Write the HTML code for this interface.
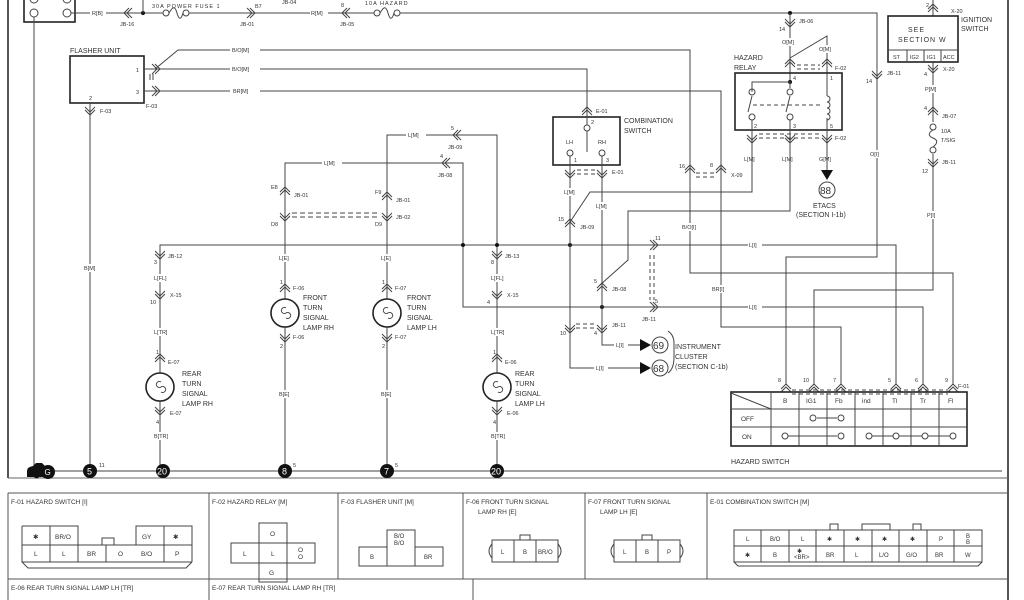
<!DOCTYPE html>
<html><head><meta charset="utf-8"><style>
html,body{margin:0;padding:0;background:#fff}
svg{display:block}
text{font-family:"Liberation Sans",sans-serif;fill:#333}
.s{font-size:5.5px}
.m{font-size:7px}
.w{stroke:#444;stroke-width:1;fill:none}
.b{stroke:#222;stroke-width:1.6;fill:none}
</style></head><body>
<svg width="1024" height="600" viewBox="0 0 1024 600" xmlns="http://www.w3.org/2000/svg">
<defs>
<g id="cd"><path d="M-5,-5 L0,0 L5,-5 M-5,-2 L0,3 L5,-2" stroke="#444" fill="none"/></g>
<g id="cu"><path d="M-5,5 L0,0 L5,5 M-5,2 L0,-3 L5,2" stroke="#444" fill="none"/></g>
<g id="cl"><path d="M5,-5 L0,0 L5,5 M8,-5 L3,0 L8,5" stroke="#444" fill="none"/></g>
<g id="cr"><path d="M-5,-5 L0,0 L-5,5 M-8,-5 L-3,0 L-8,5" stroke="#444" fill="none"/></g>
<g id="lamp"><circle r="14" stroke="#222" stroke-width="1.6" fill="#fff"/><path d="M1,-5 a3,3 0 1 0 0,5 a3,3 0 1 1 0,5" stroke="#444" fill="none"/></g>
</defs>
<!-- frame -->
<line x1="8" y1="0" x2="8" y2="478" stroke="#555" stroke-width="2"/>
<line x1="1008" y1="0" x2="1008" y2="600" stroke="#555" stroke-width="2"/>
<line x1="8" y1="478" x2="1008" y2="478" stroke="#666"/>

<!-- battery -->
<rect x="24" y="-2" width="51" height="24" class="b"/>
<circle cx="34" cy="13" r="4" class="w"/><circle cx="67" cy="13" r="4" class="w"/>
<path d="M30,-1 a4,4 0 0 0 8,0 M63,-1 a4,4 0 0 0 8,0" class="w"/>
<line x1="34" y1="17" x2="34" y2="471" class="w"/>
<!-- top wire -->
<path d="M71,13 H163 M189,13 H374 M400,13 H877 V257 H786 V385" class="w"/>
<circle cx="143" cy="13" r="2" fill="#111"/><line x1="143" y1="0" x2="143" y2="13" class="w"/>
<circle cx="166" cy="13" r="3" fill="#fff" class="w"/><circle cx="186" cy="13" r="3" fill="#fff" class="w"/>
<path d="M169,13 c4,-7 6,-7 8,0 c2,7 4,7 6,0" class="w"/>
<circle cx="377" cy="13" r="3" fill="#fff" class="w"/><circle cx="397" cy="13" r="3" fill="#fff" class="w"/>
<path d="M380,13 c4,-7 6,-7 8,0 c2,7 4,7 6,0" class="w"/>
<rect x="90" y="9" width="16" height="8" fill="#fff"/><text x="92" y="15" class="s">R[B]</text>
<use href="#cl" x="124" y="13"/><text x="120" y="26" class="s">JB-16</text>
<text x="152" y="8" class="s" letter-spacing="1">30A POWER FUSE 1</text>
<use href="#cr" x="255" y="13"/><text x="255" y="8" class="s">B7</text><text x="240" y="26" class="s">JB-01</text>
<text x="282" y="4" class="s">JB-04</text>
<rect x="310" y="9" width="18" height="8" fill="#fff"/><text x="311" y="15" class="s">R[M]</text>
<use href="#cl" x="342" y="13"/><text x="341" y="7" class="s">8</text><text x="340" y="26" class="s">JB-05</text>
<text x="365" y="5" class="s" letter-spacing="1">10A HAZARD</text>

<!-- flasher -->
<text x="70" y="53" class="m">FLASHER UNIT</text>
<rect x="70" y="56" width="74" height="47" class="b"/>
<text x="136" y="72" class="s">1</text><text x="136" y="94" class="s">3</text><text x="89" y="100" class="s">2</text>
<use href="#cr" x="160" y="69"/><use href="#cr" x="160" y="91"/>
<path d="M150,80 V74 M153,80 V74" class="w"/>
<path d="M155,69 L178,50 H690 V273 H953 V385" class="w"/>
<path d="M144,69 H587 V108" class="w"/>
<path d="M144,91 H721 V327 H841 V385" class="w"/>
<rect x="230" y="46" width="30" height="8" fill="#fff"/><text x="232" y="52" class="s">B/O[M]</text>
<rect x="230" y="65" width="30" height="8" fill="#fff"/><text x="232" y="71" class="s">B/O[M]</text>
<rect x="230" y="87" width="30" height="8" fill="#fff"/><text x="233" y="93" class="s">BR[M]</text>
<text x="146" y="108" class="s">F-03</text>
<use href="#cd" x="90" y="112"/><text x="100" y="113" class="s">F-03</text>
<line x1="90" y1="103" x2="90" y2="471" class="w"/>
<rect x="82" y="264" width="18" height="8" fill="#fff"/><text x="84" y="270" class="s">B[M]</text>

<!-- L[M] wires -->
<path d="M387,400 V135 H497 V471" class="w"/>
<path d="M285,471 V163 H463 V307 H923 V385" class="w"/>
<rect x="406" y="131" width="20" height="8" fill="#fff"/><text x="408" y="137" class="s">L[M]</text>
<rect x="322" y="159" width="20" height="8" fill="#fff"/><text x="324" y="165" class="s">L[M]</text>
<use href="#cl" x="453" y="135"/><text x="451" y="130" class="s">5</text><text x="448" y="149" class="s">JB-09</text>
<use href="#cl" x="442" y="163"/><text x="440" y="158" class="s">4</text><text x="438" y="177" class="s">JB-08</text>
<use href="#cu" x="285" y="190"/><text x="271" y="189" class="s">E8</text><text x="294" y="197" class="s">JB-01</text>
<use href="#cd" x="285" y="218"/><text x="271" y="226" class="s">D8</text>
<use href="#cu" x="387" y="195"/><text x="375" y="194" class="s">F9</text><text x="396" y="202" class="s">JB-01</text>
<use href="#cd" x="387" y="218"/><text x="375" y="226" class="s">D9</text><text x="396" y="219" class="s">JB-02</text>
<path d="M292,213 H380 M292,217 H380" stroke="#444" stroke-dasharray="5,3"/>

<!-- L[I] main -->
<path d="M160,471 V245 H896 V385" class="w"/>
<circle cx="463" cy="245" r="2" fill="#111"/><circle cx="497" cy="245" r="2" fill="#111"/>
<circle cx="570" cy="245" r="2" fill="#111"/><circle cx="602" cy="307" r="2" fill="#111"/>
<rect x="748" y="241" width="14" height="8" fill="#fff"/><text x="749" y="247" class="s">L[I]</text>
<rect x="748" y="303" width="14" height="8" fill="#fff"/><text x="749" y="309" class="s">L[I]</text>
<use href="#cr" x="658" y="245"/><text x="655" y="240" class="s">11</text>
<use href="#cr" x="658" y="307"/><text x="655" y="303" class="s">5</text><text x="642" y="321" class="s">JB-11</text>
<path d="M650,255 V300 M654,255 V300" stroke="#444" stroke-dasharray="4,3"/>

<!-- left lamp column -->
<g>
<use href="#cd" x="160" y="256"/><text x="154" y="264" class="s">3</text><text x="168" y="258" class="s">JB-12</text>
<rect x="152" y="274" width="18" height="8" fill="#fff"/><text x="154" y="280" class="s">L[FL]</text>
<use href="#cd" x="160" y="296"/><text x="150" y="304" class="s">10</text><text x="170" y="297" class="s">X-15</text>
<rect x="152" y="328" width="18" height="8" fill="#fff"/><text x="154" y="334" class="s">L[TR]</text>
<use href="#cu" x="160" y="357"/><text x="156" y="354" class="s">1</text><text x="168" y="364" class="s">E-07</text>
<use href="#lamp" x="160" y="387"/>
<text x="182" y="376" class="m">REAR</text><text x="182" y="386" class="m">TURN</text><text x="182" y="396" class="m">SIGNAL</text><text x="182" y="406" class="m">LAMP RH</text>
<use href="#cd" x="160" y="412"/><text x="156" y="424" class="s">4</text><text x="170" y="415" class="s">E-07</text>
<rect x="152" y="432" width="18" height="8" fill="#fff"/><text x="154" y="438" class="s">B[TR]</text>
</g>
<g>
<use href="#cd" x="497" y="256"/><text x="491" y="264" class="s">8</text><text x="505" y="258" class="s">JB-13</text>
<rect x="489" y="274" width="18" height="8" fill="#fff"/><text x="491" y="280" class="s">L[FL]</text>
<use href="#cd" x="497" y="296"/><text x="487" y="304" class="s">4</text><text x="507" y="297" class="s">X-15</text>
<rect x="489" y="328" width="18" height="8" fill="#fff"/><text x="491" y="334" class="s">L[TR]</text>
<use href="#cu" x="497" y="357"/><text x="493" y="354" class="s">1</text><text x="505" y="364" class="s">E-06</text>
<use href="#lamp" x="497" y="387"/>
<text x="515" y="376" class="m">REAR</text><text x="515" y="386" class="m">TURN</text><text x="515" y="396" class="m">SIGNAL</text><text x="515" y="406" class="m">LAMP LH</text>
<use href="#cd" x="497" y="412"/><text x="493" y="424" class="s">4</text><text x="507" y="415" class="s">E-06</text>
<rect x="489" y="432" width="18" height="8" fill="#fff"/><text x="491" y="438" class="s">B[TR]</text>
</g>
<g>
<rect x="278" y="254" width="14" height="8" fill="#fff"/><text x="279" y="260" class="s">L[E]</text>
<use href="#cu" x="285" y="287"/><text x="280" y="284" class="s">1</text><text x="293" y="290" class="s">F-06</text>
<use href="#lamp" x="285" y="313"/>
<text x="303" y="300" class="m">FRONT</text><text x="303" y="310" class="m">TURN</text><text x="303" y="320" class="m">SIGNAL</text><text x="303" y="330" class="m">LAMP RH</text>
<use href="#cd" x="285" y="339"/><text x="280" y="348" class="s">2</text><text x="293" y="339" class="s">F-06</text>
<rect x="278" y="390" width="14" height="8" fill="#fff"/><text x="279" y="396" class="s">B[E]</text>
</g>
<g>
<rect x="380" y="254" width="14" height="8" fill="#fff"/><text x="381" y="260" class="s">L[E]</text>
<use href="#cu" x="387" y="287"/><text x="382" y="284" class="s">1</text><text x="395" y="290" class="s">F-07</text>
<use href="#lamp" x="387" y="313"/>
<text x="407" y="300" class="m">FRONT</text><text x="407" y="310" class="m">TURN</text><text x="407" y="320" class="m">SIGNAL</text><text x="407" y="330" class="m">LAMP LH</text>
<use href="#cd" x="387" y="339"/><text x="382" y="348" class="s">2</text><text x="395" y="339" class="s">F-07</text>
<rect x="380" y="390" width="14" height="8" fill="#fff"/><text x="381" y="396" class="s">B[E]</text>
</g>
<line x1="387" y1="400" x2="387" y2="471" class="w"/>

<!-- ground bus -->
<line x1="30" y1="471" x2="1002" y2="471" class="w"/>
<path d="M27,471 q0,-4 6,-5 l3,-3 h6 l3,3 v11 h-6 q-2,3 -5,0 h-7 z" fill="#111"/>
<circle cx="48" cy="472" r="7" fill="#111"/><text x="44.5" y="475" style="font-size:8px;fill:#fff">G</text>
<g style="font-size:9px">
<circle cx="90" cy="471" r="7" fill="#111"/><text x="87" y="474.5" style="fill:#fff">5</text><text x="99" y="467" class="s">11</text>
<circle cx="163" cy="471" r="7" fill="#111"/><text x="157" y="474.5" style="fill:#fff">20</text>
<circle cx="285" cy="471" r="7" fill="#111"/><text x="282" y="474.5" style="fill:#fff">8</text><text x="293" y="467" class="s">5</text>
<circle cx="387" cy="471" r="7" fill="#111"/><text x="384" y="474.5" style="fill:#fff">7</text><text x="395" y="467" class="s">5</text>
<circle cx="497" cy="471" r="7" fill="#111"/><text x="491" y="474.5" style="fill:#fff">20</text>
</g>

<!-- combination switch -->
<rect x="553" y="117" width="67" height="48" class="b"/>
<text x="624" y="123" class="m">COMBINATION</text><text x="624" y="133" class="m">SWITCH</text>
<use href="#cu" x="587" y="110"/><text x="596" y="113" class="s">E-01</text>
<line x1="587" y1="108" x2="587" y2="125" class="w"/><circle cx="587" cy="128" r="3" class="w"/><line x1="587" y1="131" x2="587" y2="152" class="w"/>
<text x="591" y="124" class="s">2</text>
<text x="566" y="144" class="s">LH</text><text x="598" y="144" class="s">RH</text>
<circle cx="570" cy="153" r="3" class="w"/><circle cx="602" cy="153" r="3" class="w"/>
<text x="574" y="162" class="s">1</text><text x="606" y="162" class="s">3</text>
<use href="#cd" x="570" y="175"/><use href="#cd" x="602" y="175"/><text x="612" y="174" class="s">E-01</text>
<path d="M577,170 H596 M577,174 H596" stroke="#444" stroke-dasharray="4,3"/>
<path d="M570,156 V368 H640" class="w"/>
<path d="M602,156 V345 H640" class="w"/>
<rect x="562" y="188" width="18" height="8" fill="#fff"/><text x="564" y="194" class="s">L[M]</text>
<rect x="594" y="202" width="18" height="8" fill="#fff"/><text x="596" y="208" class="s">L[M]</text>
<use href="#cu" x="570" y="222"/><text x="558" y="221" class="s">15</text><text x="580" y="229" class="s">JB-09</text>
<path d="M570,222 L590,192 H752 V147" class="w"/>
<path d="M600,285 L628,260 V211 H790 V147" class="w"/>
<use href="#cu" x="602" y="286"/><text x="594" y="283" class="s">5</text><text x="612" y="291" class="s">JB-08</text>
<use href="#cd" x="570" y="330"/><use href="#cd" x="602" y="330"/>
<text x="560" y="335" class="s">10</text><text x="594" y="335" class="s">4</text><text x="612" y="327" class="s">JB-11</text>
<path d="M576,324 H596 M576,328 H596" stroke="#444" stroke-dasharray="4,3"/>
<rect x="614" y="341" width="14" height="8" fill="#fff"/><text x="616" y="347" class="s">L[I]</text>
<rect x="594" y="364" width="14" height="8" fill="#fff"/><text x="596" y="370" class="s">L[I]</text>
<path d="M640,339 L651,345 L640,351 Z M640,362 L651,368 L640,374 Z" fill="#111"/>
<circle cx="660" cy="345" r="8" class="w"/><circle cx="660" cy="368" r="8" class="w"/>
<text x="653" y="349" style="font-size:10px">69</text><text x="653" y="372" style="font-size:10px">68</text>
<path d="M668,331 q6,4 6,12 v14 q0,12 -6,16" class="w"/>
<text x="675" y="349" class="m">INSTRUMENT</text><text x="675" y="359" class="m">CLUSTER</text><text x="675" y="369" class="m">(SECTION C-1b)</text>

<!-- X-09 -->
<use href="#cu" x="690" y="168"/><use href="#cu" x="721" y="168"/>
<text x="679" y="168" class="s">16</text><text x="710" y="167" class="s">8</text><text x="731" y="177" class="s">X-09</text>
<path d="M696,173 H715 M696,177 H715" stroke="#444" stroke-dasharray="4,3"/>
<rect x="680" y="223" width="22" height="8" fill="#fff"/><text x="682" y="229" class="s">B/O[I]</text>
<rect x="710" y="285" width="20" height="8" fill="#fff"/><text x="712" y="291" class="s">BR[I]</text>

<!-- hazard relay -->
<circle cx="790" cy="13" r="2" fill="#111"/>
<path d="M790,13 V82" class="w"/><circle cx="790" cy="82" r="2" fill="#111"/>
<use href="#cd" x="790" y="24"/><text x="779" y="31" class="s">14</text><text x="799" y="23" class="s">JB-06</text>
<rect x="781" y="38" width="18" height="8" fill="#fff"/><text x="782" y="44" class="s">O[M]</text>
<path d="M827,73 V36 L790,58" class="w"/>
<rect x="818" y="45" width="18" height="8" fill="#fff"/><text x="819" y="51" class="s">O[M]</text>
<use href="#cu" x="790" y="62"/><use href="#cu" x="827" y="62"/><text x="835" y="70" class="s">F-02</text>
<path d="M797,65 H820 M797,69 H820" stroke="#444" stroke-dasharray="4,3"/>
<text x="734" y="60" class="m">HAZARD</text><text x="734" y="70" class="m">RELAY</text>
<rect x="735" y="73" width="107" height="57" class="b"/>
<text x="793" y="80" class="s">4</text><text x="830" y="80" class="s">1</text>
<text x="754" y="128" class="s">2</text><text x="793" y="128" class="s">3</text><text x="830" y="128" class="s">5</text>
<path d="M752,92 V82 H790 V88" class="w"/>
<circle cx="752" cy="92" r="3" class="w"/><circle cx="790" cy="92" r="3" class="w"/>
<circle cx="752" cy="117" r="3" class="w"/><circle cx="790" cy="117" r="3" class="w"/>
<path d="M748,112 L752,96 M786,112 L790,96" class="w"/>
<path d="M753,105 H820" stroke="#444" stroke-dasharray="4,3"/>
<path d="M827,73 V96 M827,118 V147" class="w"/>
<path d="M827,96 a3,3 0 0 1 0,6 a3,3 0 0 1 0,6 a3,3 0 0 1 0,6 a3,3 0 0 1 0,6" class="w"/>
<path d="M752,120 V147 M790,120 V147" class="w"/>
<use href="#cd" x="752" y="140"/><use href="#cd" x="790" y="140"/><use href="#cd" x="827" y="140"/>
<text x="835" y="140" class="s">F-02</text>
<path d="M759,134 H820 M759,138 H820" stroke="#444" stroke-dasharray="4,3"/>
<text x="744" y="161" class="s">L[M]</text><text x="782" y="161" class="s">L[M]</text><text x="819" y="161" class="s">G[M]</text>
<line x1="827" y1="147" x2="827" y2="172" class="w"/>
<path d="M821,170 L833,170 L827,180 Z" fill="#111"/>
<circle cx="827" cy="190" r="8" class="w"/><text x="820" y="194" style="font-size:10px">88</text>
<text x="813" y="208" class="m">ETACS</text><text x="796" y="217" class="m">(SECTION I-1b)</text>
<rect x="869" y="150" width="16" height="8" fill="#fff"/><text x="870" y="156" class="s">O[I]</text>
<use href="#cd" x="877" y="76"/><text x="866" y="83" class="s">14</text><text x="887" y="75" class="s">JB-11</text>

<!-- ignition switch -->
<path d="M933,0 V16 M933,62 V290 H814 V385" class="w"/>
<use href="#cu" x="933" y="7"/><text x="926" y="7" class="s">2</text><text x="951" y="13" class="s">X-20</text>
<rect x="888" y="16" width="70" height="46" class="b"/>
<line x1="888" y1="50" x2="958" y2="50" class="w"/>
<path d="M907,50 V62 M924,50 V62 M941,50 V62" class="w"/>
<text x="908" y="32" class="m" letter-spacing="1">SEE</text><text x="898" y="42" class="m" letter-spacing="1">SECTION W</text>
<text x="893" y="59" class="s">ST</text><text x="910" y="59" class="s">IG2</text><text x="927" y="59" class="s">IG1</text><text x="943" y="59" class="s">ACC</text>
<text x="961" y="22" class="m">IGNITION</text><text x="961" y="31" class="m">SWITCH</text>
<use href="#cd" x="933" y="70"/><text x="924" y="76" class="s">4</text><text x="943" y="71" class="s">X-20</text>
<rect x="924" y="85" width="18" height="8" fill="#fff"/><text x="925" y="91" class="s">P[M]</text>
<use href="#cu" x="933" y="110"/><text x="924" y="110" class="s">4</text><text x="942" y="118" class="s">JB-07</text>
<rect x="928" y="122" width="10" height="32" fill="#fff"/>
<circle cx="933" cy="127" r="3" class="w"/><circle cx="933" cy="150" r="3" class="w"/>
<path d="M933,130 c-5,3 -5,6 0,8 c5,2 5,5 0,9" class="w"/>
<text x="941" y="133" class="s">10A</text><text x="941" y="142" class="s">T/SIG</text>
<use href="#cd" x="933" y="164"/><text x="922" y="173" class="s">12</text><text x="942" y="164" class="s">JB-11</text>
<rect x="926" y="211" width="14" height="8" fill="#fff"/><text x="927" y="217" class="s">P[I]</text>

<!-- hazard switch table -->
<g style="font-size:6.5px">
<use href="#cu" x="786" y="387"/><use href="#cu" x="814" y="387"/><use href="#cu" x="841" y="387"/>
<use href="#cu" x="896" y="387"/><use href="#cu" x="923" y="387"/><use href="#cu" x="953" y="387"/>
<path d="M792,390 H948 M792,394 H948" stroke="#444" stroke-dasharray="4,3"/>
<text x="778" y="382" class="s">8</text><text x="803" y="382" class="s">10</text><text x="833" y="382" class="s">7</text>
<text x="888" y="382" class="s">5</text><text x="915" y="382" class="s">6</text><text x="945" y="382" class="s">9</text><text x="958" y="388" class="s">F-01</text>
<rect x="731" y="392" width="236" height="54" class="b"/>
<path d="M731,409 H967 M731,427 H967" class="w"/>
<path d="M771,392 V446 M799,392 V446 M827,392 V446 M855,392 V446 M883,392 V446 M911,392 V446 M939,392 V446" class="w"/>
<line x1="731" y1="393" x2="771" y2="409" class="w"/>
<text x="783" y="403">B</text><text x="806" y="403">IG1</text><text x="835" y="403">Fb</text><text x="862" y="403">ind</text>
<text x="892" y="403">Tl</text><text x="920" y="403">Tr</text><text x="948" y="403">Fl</text>
<text x="741" y="421">OFF</text><text x="742" y="439">ON</text>
<path d="M817,418 H837 M787,436 H837 M869,436 H953" class="w"/>
<g fill="#fff" stroke="#444">
<circle cx="813" cy="418" r="3"/><circle cx="841" cy="418" r="3"/>
<circle cx="785" cy="436" r="3"/><circle cx="841" cy="436" r="3"/><circle cx="869" cy="436" r="3"/>
<circle cx="896" cy="436" r="3"/><circle cx="925" cy="436" r="3"/><circle cx="953" cy="436" r="3"/>
</g>
<text x="731" y="464" style="font-size:7px">HAZARD SWITCH</text>
</g>

<!-- bottom connector table -->
<g style="font-size:6.5px">
<path d="M8,493 H1008 M8,579 H1008 M8,493 V600 M209,493 V600 M338,493 V579 M463,493 V579 M585,493 V579 M707,493 V579 M473,579 V600" stroke="#555" fill="none"/>
<text x="11" y="504">F-01 HAZARD SWITCH [I]</text>
<text x="212" y="504">F-02 HAZARD RELAY [M]</text>
<text x="341" y="504">F-03 FLASHER UNIT [M]</text>
<text x="466" y="504">F-06 FRONT TURN SIGNAL</text><text x="478" y="514">LAMP RH [E]</text>
<text x="588" y="504">F-07 FRONT TURN SIGNAL</text><text x="600" y="514">LAMP LH [E]</text>
<text x="710" y="504">E-01 COMBINATION SWITCH [M]</text>
<text x="11" y="590">E-06 REAR TURN SIGNAL LAMP LH [TR]</text>
<text x="212" y="590">E-07 REAR TURN SIGNAL LAMP RH [TR]</text>
</g>
<path d="M22,526 H78 V545 M136,545 V526 H192 V562 M22,526 V562 H192 M22,545 H192 M50,526 V562 M164,526 V562 M78,545 V562 M106,545 V562 M22,562 l6,6 h158 l6,-6 M102,545 v-7 h12 v7" class="w"/>
<g style="font-size:6.5px">
<text x="33" y="539">✱</text><text x="55" y="539">BR/O</text><text x="142" y="539">GY</text><text x="173" y="539">✱</text>
<text x="34" y="556">L</text><text x="62" y="556">L</text><text x="87" y="556">BR</text><text x="118" y="556">O</text><text x="141" y="556">B/O</text><text x="175" y="556">P</text>
</g>
<path d="M259,523 H287 V543 H315 V563 H287 V582 H259 V563 H231 V543 H259 Z M259,523 V582 M287,543 V563 M231,543 H315 M231,563 H315" class="w"/>
<g style="font-size:6.5px"><text x="270" y="536">O</text><text x="243" y="556">L</text><text x="271" y="556">L</text><text x="298" y="552">O</text><text x="298" y="559">O</text><text x="269" y="575">G</text></g>
<path d="M387,530 H415 V547 H443 V566 H359 V547 H387 Z M387,547 V566 M415,547 V566" class="w"/>
<g style="font-size:6px"><text x="394" y="538">B/O</text><text x="394" y="545">B/O</text><text x="370" y="559">B</text><text x="424" y="559">BR</text></g>
<path d="M492,540 H558 V562 H492 Z M514,540 V562 M536,540 V562 M520,540 v-5 h10 v5 M492,544 q-6,7 0,14 M558,544 q6,7 0,14" class="w"/>
<g style="font-size:6px"><text x="501" y="554">L</text><text x="523" y="554">B</text><text x="538" y="554">BR/O</text></g>
<path d="M614,540 H680 V562 H614 Z M636,540 V562 M658,540 V562 M642,540 v-5 h10 v5 M614,544 q-6,7 0,14 M680,544 q6,7 0,14" class="w"/>
<g style="font-size:6px"><text x="623" y="554">L</text><text x="645" y="554">B</text><text x="667" y="554">P</text></g>
<path d="M734,530 H982 V562 H734 Z M734,546 H982 M761,530 V562 M789,530 V562 M816,530 V562 M844,530 V562 M872,530 V562 M899,530 V562 M927,530 V562 M954,530 V562 M734,562 l4,4 h240 l4,-4 M830,530 v-6 h8 v6 M862,530 v-6 h28 v6 M913,530 v-6 h8 v6" class="w"/>
<g style="font-size:6px">
<text x="746" y="541">L</text><text x="770" y="541">B/O</text><text x="801" y="541">L</text><text x="827" y="541">✱</text><text x="855" y="541">✱</text><text x="882" y="541">✱</text><text x="910" y="541">✱</text><text x="939" y="541">P</text><text x="966" y="538">B</text><text x="966" y="544">B</text>
<text x="745" y="557">✱</text><text x="773" y="557">B</text><text x="797" y="553">✱</text><text x="794" y="559">&lt;BR&gt;</text><text x="826" y="557">BR</text><text x="855" y="557">L</text><text x="879" y="557">L/O</text><text x="906" y="557">G/O</text><text x="935" y="557">BR</text><text x="965" y="557">W</text>
</g>
</svg>
</body></html>
